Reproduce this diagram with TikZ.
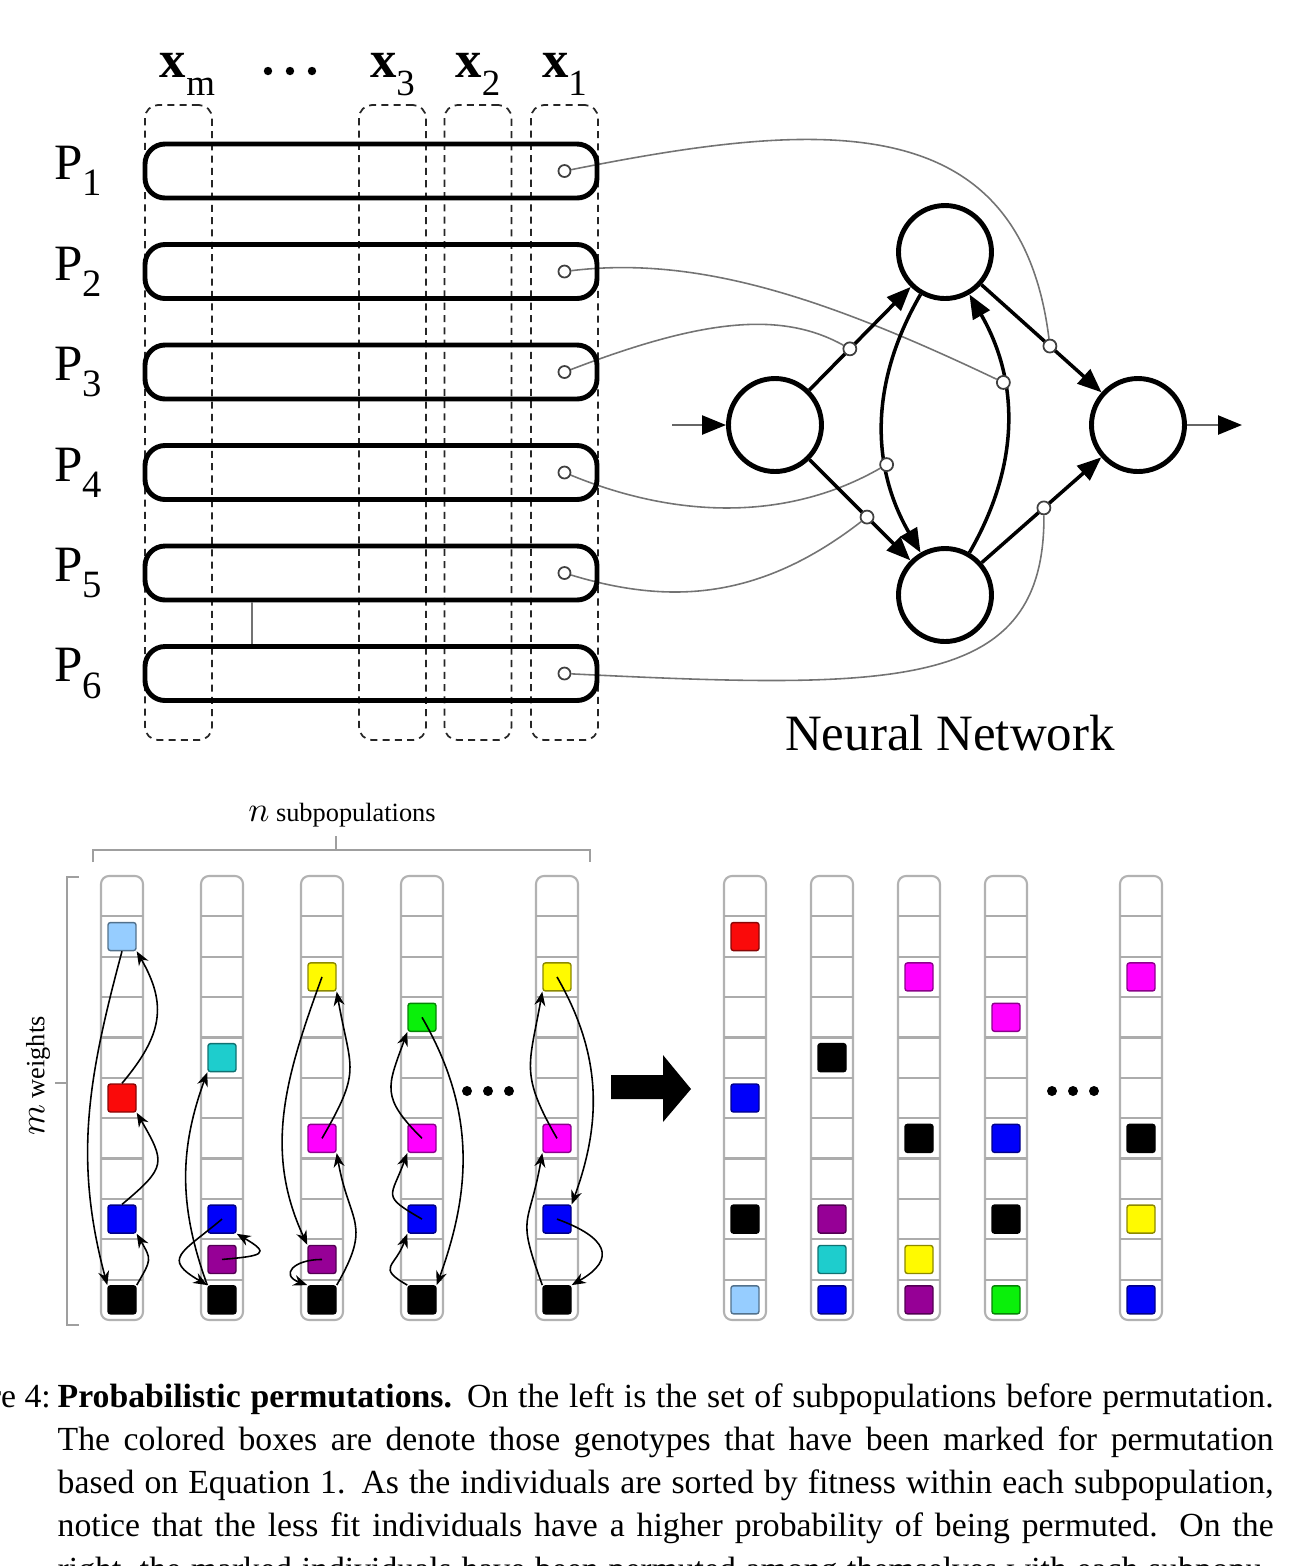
\documentclass[tikz,border=0pt]{standalone}
\usepackage{fontspec}
\setmainfont{Liberation Serif}
\usetikzlibrary{arrows.meta,positioning,backgrounds}
\definecolor{lblue}{RGB}{150,205,255}
\definecolor{gred}{RGB}{250,10,10}
\definecolor{gblue}{RGB}{0,0,250}
\definecolor{gcyan}{RGB}{30,205,205}
\definecolor{gpurple}{RGB}{150,0,150}
\definecolor{gyellow}{RGB}{255,250,0}
\definecolor{gmag}{RGB}{255,0,255}
\definecolor{ggreen}{RGB}{10,240,10}
\newcommand{\xsub}[1]{\textbf{x}\raisebox{-5pt}{\fontsize{10.5}{10.5}\selectfont #1}}
\newcommand{\psub}[1]{P\raisebox{-4.6pt}{\fontsize{11}{11}\selectfont #1}}
\tikzset{
  >={Stealth[length=1.4mm,width=1.1mm]},
  popbox/.style={draw,line width=1.4pt,rounded corners=2mm,minimum width=45.2mm,
    minimum height=5.4mm,inner sep=0pt},
  xcol/.style={draw=black!85,line width=0.5pt,dash pattern=on 2pt off 1.5pt,
    rounded corners=1.3mm,minimum width=6.7mm,minimum height=63.5mm,inner sep=0pt},
  xlab/.style={inner sep=0pt,font=\fontsize{15}{15}\selectfont},
  plab/.style={inner sep=0pt,font=\fontsize{14.5}{14.5}\selectfont},
  pdot/.style={circle,draw=black!75,fill=white,line width=0.5pt,inner sep=0pt,minimum size=1.2mm},
  wdot/.style={pdot,minimum size=1.3mm},
  neuron/.style={circle,draw,line width=1.4pt,minimum size=9.3mm,inner sep=0pt},
  syn/.style={line width=1pt,-{Triangle[length=2.4mm,width=1.9mm]}},
  iolink/.style={draw=black!60,line width=0.7pt,-{Triangle[length=2.4mm,width=1.9mm,color=black]}},
  link/.style={draw=black!55,line width=0.45pt},
  colbar/.style={draw=gray!60,line width=0.6pt,rounded corners=0.8mm},
  cellsep/.style={draw=gray!65,line width=0.6pt},
  gene/.style={rectangle,fill=#1,draw=#1!55!black,line width=0.4pt,rounded corners=0.7pt,
    minimum size=2.8mm,inner sep=0pt},
  perm/.style={->,line width=0.45pt},
  brk/.style={draw=gray!75,line width=0.5pt},
  tag/.style={inner sep=1pt,font=\fontsize{7.5}{9}\selectfont},
  nnlab/.style={inner sep=0pt,font=\fontsize{14.5}{16}\selectfont},
  capline/.style={anchor=base west,inner sep=0pt,font=\fontsize{9.6}{12}\selectfont},
}
\begin{document}
\begin{tikzpicture}
  \useasboundingbox (0,0) rectangle (13,-15.66);
  % genotype columns
  \node[xcol] (Xm) at (1.785,-4.225) {};
  \node[xcol] (X3) at (3.925,-4.225) {};
  \node[xcol] (X2) at (4.78,-4.225) {};
  \node[xcol] (X1) at (5.645,-4.225) {};
  \node[xlab,above=0.8mm of Xm,xshift=0.9mm] {\xsub{m}};
  \node[xlab,above=0.8mm of X3] {\xsub{3}};
  \node[xlab,above=0.8mm of X2] {\xsub{2}};
  \node[xlab,above=0.8mm of X1] {\xsub{1}};
  \foreach \dx in {2.68,2.90,3.12} \fill (\dx,-0.71) circle (0.042);
  % subpopulations
  \foreach \i in {1,...,6} {
    \node[popbox] (P\i) at (3.71,{-1.71-1.005*(\i-1)}) {};
    \node[plab,left=4mm of P\i] {\psub{\i}};
    \node[pdot] (p\i) at ([xshift=-3.5mm]P\i.east) {};
  }
  \coordinate (tk) at (2.52,-6.2);
  \draw[link] (P5.south -| tk) -- (P6.north -| tk);
  % network
  \node[neuron] (nin) at (7.75,-4.25) {};
  \node[neuron] (ntop) at (9.45,-2.52) {};
  \node[neuron] (nbot) at (9.45,-5.95) {};
  \node[neuron] (nout) at (11.38,-4.25) {};
  \coordinate (src) at (6.72,-4.25);
  \coordinate (snk) at (12.42,-4.25);
  \draw[iolink] (src) -- (nin);
  \draw[iolink] (nout) -- (snk);
  \draw[syn] (nin) -- node[wdot,pos=0.4] (w1) {} (ntop);
  \draw[syn] (nin) -- node[wdot,pos=0.57] (w2) {} (nbot);
  \draw[syn] (ntop) -- node[wdot,pos=0.57] (w3) {} (nout);
  \draw[syn] (nbot) -- node[wdot,pos=0.52] (w4) {} (nout);
  \draw[syn] (ntop) to[bend right=30] node[wdot,pos=0.66] (w5) {} (nbot);
  \draw[syn] (nbot) to[bend right=30] node[wdot,pos=0.66] (w6) {} (ntop);
  \begin{scope}[on background layer]
    \draw[link] (p1) .. controls (8.2,-1.20) and (10.2,-1.05) .. (w3);
    \draw[link] (p2) .. controls (7.0,-2.55) and (8.3,-3.00) .. (w6);
    \draw[link] (p3) .. controls (7.0,-3.20) and (7.8,-3.10) .. (w1);
    \draw[link] (p4) .. controls (6.8,-5.20) and (7.9,-5.20) .. (w5);
    \draw[link] (p5) .. controls (6.7,-6.05) and (7.6,-6.00) .. (w2);
    \draw[link] (p6) .. controls (9.0,-6.90) and (10.45,-6.90) .. (w4);
  \end{scope}
  \node[nnlab] (nnl) at (9.50,-7.33) {Neural Network};
  % brackets
  \node[tag] (nsub) at (3.42,-8.15) {{\fontsize{10}{10}\selectfont$n$} subpopulations};
  \draw[brk] (0.93,-8.62) -- (0.93,-8.50) -- (5.90,-8.50) -- (5.90,-8.62);
  \draw[brk] (3.36,-8.50) -- (3.36,-8.36);
  \draw[brk] (0.79,-8.77) -- (0.67,-8.77) -- (0.67,-13.25) -- (0.79,-13.25);
  \draw[brk] (0.67,-10.83) -- (0.55,-10.83);
  \node[tag,rotate=90] (mw) at (0.38,-10.76) {{\fontsize{10}{10}\selectfont$m$} weights};
  % weight columns
  \foreach \cn/\cx in {L1/1.22,L2/2.22,L3/3.22,L4/4.22,L5/5.57,R1/7.45,R2/8.32,R3/9.19,R4/10.06,R5/11.41} {
    \draw[colbar] (\cx-0.21,-8.76) rectangle (\cx+0.21,-13.20);
    \foreach \k in {1,...,10}
      \draw[cellsep] (\cx-0.21,{-8.76-0.4036*\k}) -- (\cx+0.21,{-8.76-0.4036*\k});
  }
  \foreach \cn/\cx/\rw/\gc in {L1/1.22/1/lblue,L1/1.22/5/gred,L1/1.22/8/gblue,L1/1.22/10/black,
      L2/2.22/4/gcyan,L2/2.22/8/gblue,L2/2.22/9/gpurple,L2/2.22/10/black,
      L3/3.22/2/gyellow,L3/3.22/6/gmag,L3/3.22/9/gpurple,L3/3.22/10/black,
      L4/4.22/3/ggreen,L4/4.22/6/gmag,L4/4.22/8/gblue,L4/4.22/10/black,
      L5/5.57/2/gyellow,L5/5.57/6/gmag,L5/5.57/8/gblue,L5/5.57/10/black,
      R1/7.45/1/gred,R1/7.45/5/gblue,R1/7.45/8/black,R1/7.45/10/lblue,
      R2/8.32/4/black,R2/8.32/8/gpurple,R2/8.32/9/gcyan,R2/8.32/10/gblue,
      R3/9.19/2/gmag,R3/9.19/6/black,R3/9.19/9/gyellow,R3/9.19/10/gpurple,
      R4/10.06/3/gmag,R4/10.06/6/gblue,R4/10.06/8/black,R4/10.06/10/ggreen,
      R5/11.41/2/gmag,R5/11.41/6/black,R5/11.41/8/gyellow,R5/11.41/10/gblue}
    \node[gene=\gc] (\cn-\rw) at (\cx,{-8.962-0.4036*\rw}) {};
  % permutation moves
  \draw[perm] (L1-1.south) to[out=255,in=105] (L1-10.north west);
  \draw[perm] (L1-5.north) to[out=50,in=-60,looseness=1.2] (L1-1.south east);
  \draw[perm] (L1-8.north) to[out=40,in=-60,looseness=1.6] (L1-5.south east);
  \draw[perm] (L1-10.north east) to[out=60,in=-60,looseness=1.5] (L1-8.south east);
  \draw[perm] (L2-10.north west) to[out=110,in=-110] (L2-4.south west);
  \draw[perm] (L2-8.center) to[out=220,in=150,looseness=2] (L2-10.north west);
  \draw[perm] (L2-9.center) to[out=5,in=-30,looseness=3.5] (L2-8.south east);
  \draw[perm] (L3-6.center) to[out=60,in=-80,looseness=1.4] (L3-2.south east);
  \draw[perm] (L3-10.north east) to[out=60,in=-80,looseness=1.4] (L3-6.south east);
  \draw[perm] (L3-2.center) to[out=250,in=115] (L3-9.north west);
  \draw[perm] (L3-9.center) to[out=180,in=160,looseness=2.5] (L3-10.north west);
  \draw[perm] (L4-6.center) to[out=135,in=-110,looseness=1.4] (L4-3.south west);
  \draw[perm] (L4-8.center) to[out=150,in=-110,looseness=1.8] (L4-6.south west);
  \draw[perm] (L4-10.north west) to[out=150,in=-110,looseness=1.8] (L4-8.south west);
  \draw[perm] (L4-3.center) to[out=-60,in=70] (L4-10.north east);
  \draw[perm] (L5-6.center) to[out=120,in=-100,looseness=1.3] (L5-2.south west);
  \draw[perm] (L5-10.north west) to[out=110,in=-100,looseness=1.5] (L5-6.south west);
  \draw[perm] (L5-2.center) to[out=-60,in=70] (L5-8.north east);
  \draw[perm] (L5-8.center) to[out=-20,in=30,looseness=2] (L5-10.north east);
  \foreach \dx in {4.67,4.88,5.09,10.52,10.73,10.94} \fill (\dx,-10.91) circle (0.05);
  \fill (6.11,-10.75) -- (6.63,-10.75) -- (6.63,-10.55) -- (6.91,-10.89)
    -- (6.63,-11.22) -- (6.63,-10.99) -- (6.11,-10.99) -- cycle;
  % caption
  \begin{scope}
    \clip (0,0) rectangle (13,-15.66);
    \node[capline,anchor=base east] (fig) at (0.515,-14.07) {Figure 4:};
    \node[capline] (c1) at (0.57,-14.07) {\makebox[121.6mm][s]{\textbf{Probabilistic permutations.} On the left is the set of subpopulations before permutation.}};
    \node[capline] (c2) at (0.57,-14.50) {\makebox[121.6mm][s]{The colored boxes are denote those genotypes that have been marked for permutation}};
    \node[capline] (c3) at (0.57,-14.93) {\makebox[121.6mm][s]{based on Equation 1. As the individuals are sorted by fitness within each subpopulation,}};
    \node[capline] (c4) at (0.57,-15.36) {\makebox[121.6mm][s]{notice that the less fit individuals have a higher probability of being permuted. On the}};
    \node[capline] (c5) at (0.57,-15.80) {\makebox[121.6mm][s]{right, the marked individuals have been permuted among themselves with each subpopu-}};
  \end{scope}
\end{tikzpicture}
\end{document}
